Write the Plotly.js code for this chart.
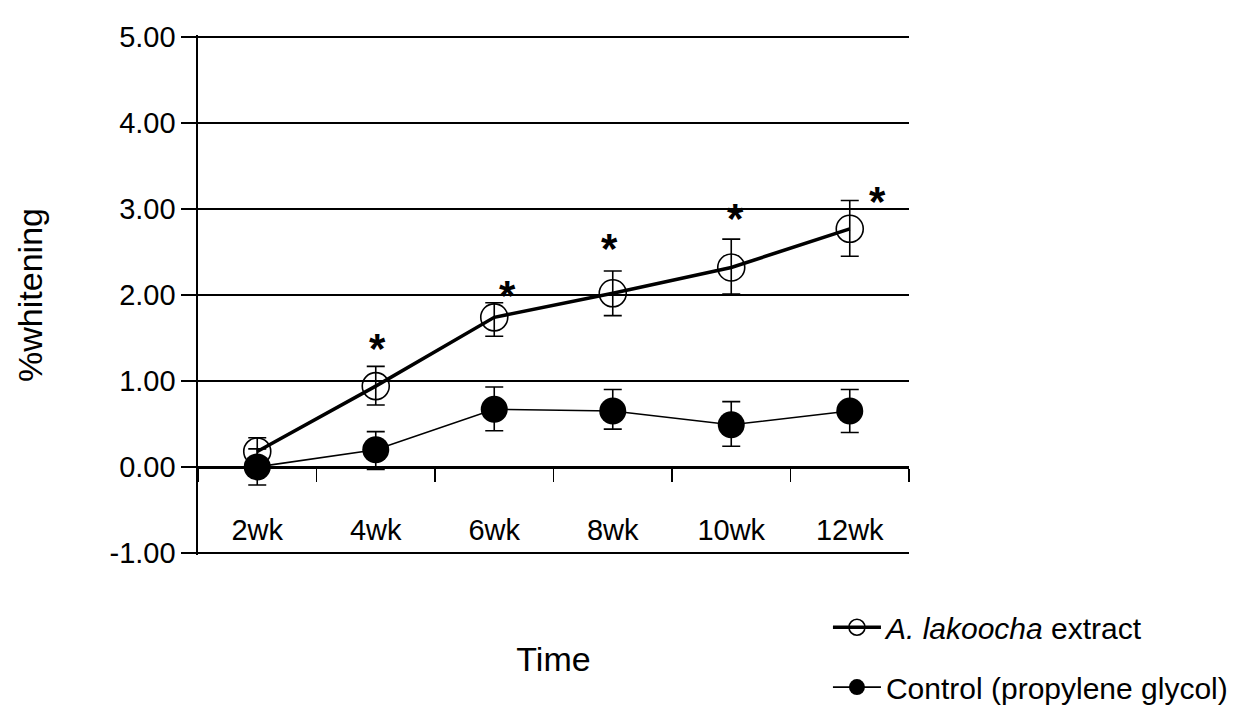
<!DOCTYPE html>
<html>
<head>
<meta charset="utf-8">
<script src="https://cdn.plot.ly/plotly-3.0.1.min.js"></script>
<style>html,body{margin:0;padding:0;background:#fff;}#chart{width:1253px;height:715px;}</style>
</head>
<body>
<div id="chart"></div>
<script>
// ---- data ----
const categories = ['2wk', '4wk', '6wk', '8wk', '10wk', '12wk'];
const extractMean = [0.18, 0.94, 1.74, 2.02, 2.32, 2.77];
const extractErrPlus = [0.16, 0.23, 0.17, 0.26, 0.33, 0.33];
const extractErrMinus = [0.16, 0.22, 0.22, 0.26, 0.31, 0.32];
const controlMean = [0.00, 0.20, 0.67, 0.65, 0.49, 0.65];
const controlErrPlus = [0.21, 0.21, 0.26, 0.25, 0.27, 0.25];
const controlErrMinus = [0.21, 0.23, 0.25, 0.21, 0.25, 0.25];
const sigLevel = [null, 1.51, 2.12, 2.67, 3.02, 3.22];
const yTickVals = [-1, 0, 1, 2, 3, 4, 5];
const yTickText = ['-1.00', '0.00', '1.00', '2.00', '3.00', '4.00', '5.00'];
const seriesNames = ['<i>A. lakoocha</i> extract', 'Control (propylene glycol)'];

// ---- style ----
const FONT = '"Liberation Sans Narrow", "Arial Narrow", "Liberation Sans", Arial, sans-serif';
const sigShift = [0, 2, 13, -3, 4, 28];
const yRange = [-1.025, 5.025];

const traces = [
  {
    x: categories, y: controlMean, name: seriesNames[1], type: 'scatter', mode: 'lines+markers',
    line: {color: '#000', width: 1.6},
    marker: {symbol: 'circle', size: 27, color: '#000'},
    error_y: {type: 'data', symmetric: false, array: controlErrPlus, arrayminus: controlErrMinus,
              color: '#000', thickness: 1.6, width: 9},
    legend: 'legend2'
  },
  {
    x: categories, y: extractMean, name: seriesNames[0], type: 'scatter', mode: 'lines+markers',
    line: {color: '#000', width: 3.5},
    marker: {symbol: 'circle-open', size: 27, color: '#000', line: {width: 1.6, color: '#000'}},
    error_y: {type: 'data', symmetric: false, array: extractErrPlus, arrayminus: extractErrMinus,
              color: '#000', thickness: 1.6, width: 9},
    legend: 'legend'
  }
];

const annotations = [];
sigLevel.forEach((v, i) => {
  if (v === null) return;
  annotations.push({
    x: i, y: v, xref: 'x', yref: 'y', text: '<b>*</b>', showarrow: false,
    xshift: sigShift[i], yshift: -11,
    font: {family: 'Liberation Sans, Arial, sans-serif', size: 42, color: '#000'}
  });
});

const layout = {
  width: 1253, height: 715,
  margin: {l: 198, r: 344, t: 35, b: 160, pad: 0, autoexpand: false},
  paper_bgcolor: '#fff', plot_bgcolor: '#fff',
  font: {family: FONT, size: 29, color: '#000'},
  showlegend: true,
  xaxis: {
    type: 'category', range: [-0.5, 5.5], anchor: 'free',
    position: (0 - yRange[0]) / (yRange[1] - yRange[0]),
    showgrid: false, zeroline: false, showline: true, linecolor: '#000', linewidth: 1.6,
    ticks: 'outside', tickson: 'boundaries', ticklen: 13, tickwidth: 1.6, tickcolor: '#000',
    ticklabelstandoff: 37,
    tickfont: {family: FONT, size: 29, color: '#000'},
    title: {text: 'Time', font: {family: FONT, size: 34, color: '#000'}, standoff: 102}
  },
  yaxis: {
    range: yRange, domain: [0, 1],
    tickmode: 'array', tickvals: yTickVals, ticktext: yTickText,
    showgrid: true, gridcolor: '#000', gridwidth: 1.6,
    zeroline: false, showline: true, linecolor: '#000', linewidth: 1.6,
    ticks: 'outside', ticklen: 15, tickwidth: 1.6, tickcolor: '#000',
    tickfont: {family: FONT, size: 29, color: '#000'},
    title: {text: '%whitening', font: {family: FONT, size: 34, color: '#000'}, standoff: 56}
  },
  legend: {
    x: 0.886, y: -0.139, xanchor: 'left', yanchor: 'middle', xref: 'paper', yref: 'paper',
    bgcolor: 'rgba(0,0,0,0)', borderwidth: 0, itemwidth: 48,
    font: {family: FONT, size: 30, color: '#000'}
  },
  legend2: {
    x: 0.886, y: -0.254, xanchor: 'left', yanchor: 'middle', xref: 'paper', yref: 'paper',
    bgcolor: 'rgba(0,0,0,0)', borderwidth: 0, itemwidth: 48,
    font: {family: FONT, size: 30, color: '#000'}
  },
  annotations: annotations
};

Plotly.newPlot('chart', traces, layout, {displayModeBar: false, staticPlot: true});
</script>
</body>
</html>
